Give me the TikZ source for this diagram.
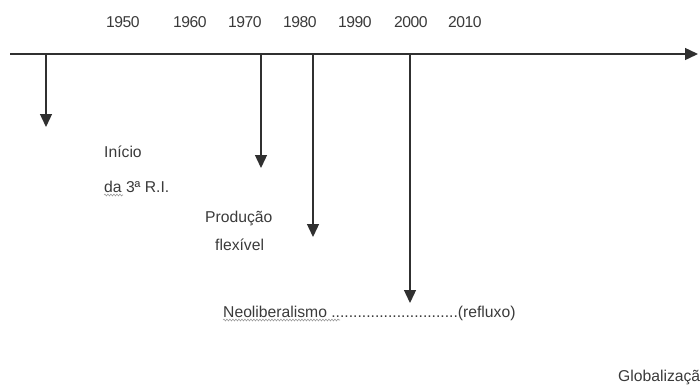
\documentclass[tikz,border=0pt]{standalone}
\usepackage{fontspec}
\setmainfont{Liberation Sans}
\usetikzlibrary{arrows.meta,decorations.pathmorphing}
\definecolor{ink}{HTML}{303030}
\definecolor{txt}{HTML}{3A3A3A}
\definecolor{squig}{HTML}{9A9A9A}
\tikzset{
  axisline/.style={draw=ink,line width=1.4pt,-{Triangle[length=13pt,width=12pt]}},
  event/.style={draw=ink,line width=1.3pt,-{Triangle[length=13pt,width=12pt]}},
  lbl/.style={anchor=base west,inner sep=0pt,text=txt,font=\fontsize{15.7}{18}\selectfont},
  yr/.style={lbl,font=\fontsize{15.7}{18}\addfontfeature{LetterSpace=-3}\selectfont},
  squiggle/.style={draw=squig,line width=0.6pt,decorate,decoration={snake,amplitude=0.9pt,segment length=3pt}}
}
\begin{document}
\begin{tikzpicture}[x=1pt,y=-1pt]
\useasboundingbox (0,0) rectangle (700,384);
% axis
\coordinate (ax0) at (10,54);
\coordinate (ax1) at (698,54);
\draw[axisline] (ax0) -- (ax1);
% years
\node[yr] (y1950) at (106,27) {1950};
\node[yr] (y1960) at (173,27) {1960};
\node[yr] (y1970) at (228,27) {1970};
\node[yr] (y1980) at (283,27) {1980};
\node[yr] (y1990) at (338,27) {1990};
\node[yr] (y2000) at (394,27) {2000};
\node[yr] (y2010) at (448,27) {2010};
% event arrows
\coordinate (s1) at (46,54);   \coordinate (t1) at (46,127);
\coordinate (s2) at (261,54);  \coordinate (t2) at (261,168);
\coordinate (s3) at (313,54);  \coordinate (t3) at (313,237);
\coordinate (s4) at (410,54);  \coordinate (t4) at (410,303);
\draw[event] (s1) -- (t1);
\draw[event] (s2) -- (t2);
\draw[event] (s3) -- (t3);
\draw[event] (s4) -- (t4);
% labels
\node[lbl] (inicio) at (104,157) {Início};
\node[lbl] (terceira) at (104,192) {da 3ª R.I.};
\node[lbl] (producao) at (205,222) {Produção};
\node[lbl] (flexivel) at (215,250) {flexível};
\node[lbl] (neo) at (223,317) {Neoliberalismo .............................(refluxo)};
\node[lbl] (glob) at (618,381) {Globalização};
% spell-check squiggles
\coordinate (q1a) at (104,195); \coordinate (q1b) at (123,195);
\draw[squiggle] (q1a) -- (q1b);
\coordinate (q2a) at (223,320); \coordinate (q2b) at (340,320);
\draw[squiggle] (q2a) -- (q2b);
\end{tikzpicture}
\end{document}
